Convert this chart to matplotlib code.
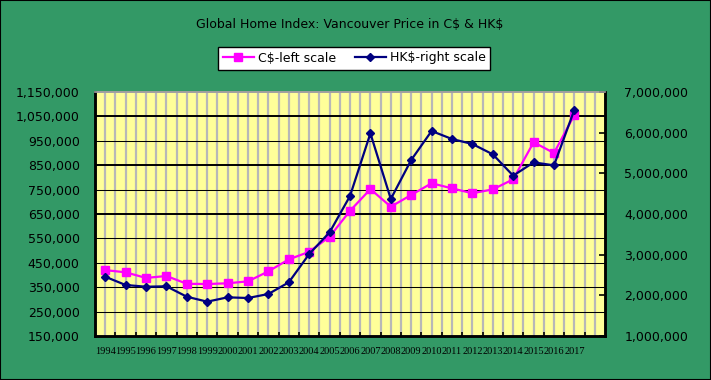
import matplotlib
matplotlib.use('Agg')
import matplotlib.pyplot as plt
from matplotlib.ticker import FuncFormatter
from matplotlib.patches import Rectangle

plt.rcParams['text.parse_math'] = False

years = [str(y) for y in range(1994, 2018)]
cad = [420000, 411000, 388000, 396000, 364000, 363000, 366000, 374000,
       415000, 464000, 495000, 557000, 663000, 752000, 680000, 728000,
       776000, 755000, 735000, 751000, 792000, 944000, 900000, 1056000]
hkd = [2458000, 2254000, 2212000, 2222000, 1966000, 1844000, 1951000, 1934000,
       2033000, 2320000, 3016000, 3549000, 4442000, 5984000, 4369000, 5328000,
       6041000, 5844000, 5721000, 5467000, 4942000, 5270000, 5196000, 6565000]
left_ticks = list(range(150000, 1150001, 100000))
right_ticks = list(range(1000000, 7000001, 1000000))

bg = '#339966'
fig = plt.figure(figsize=(7.11, 3.80), dpi=100, facecolor=bg)
fig.patches.append(Rectangle((0, 0), 1, 1, transform=fig.transFigure,
                             fill=False, edgecolor='black', linewidth=1.5))

ax = fig.add_axes([95/711, 1-336/380, 510/711, 244/380])
ax.set_facecolor('#FFFF99')
x = list(range(len(years)))

# grey vertical lines every half category
for k in range(49):
    ax.axvline(k*0.5, color='#B8B8B8', linewidth=1.6, zorder=1)
# black horizontal grid
for v in left_ticks[1:-1]:
    lw = 1.4 if v in (1050000, 850000, 650000) else 0.75
    ax.axhline(v, color='black', linewidth=lw, zorder=1.5)

l1, = ax.plot(x, cad, color='#FF00FF', linewidth=1.6, marker='s',
              markersize=6, zorder=3, label='C$-left scale')
ax.set_xlim(-0.5, 24.5)
ax.set_ylim(150000, 1150000)
ax.set_yticks(left_ticks)
ax.yaxis.set_major_formatter(FuncFormatter(lambda v, p: f'{int(v):,}'))
ax.tick_params(axis='y', length=0, labelsize=9, pad=11)
ax.set_xticks(x)
ax.set_xticklabels(years, fontsize=7.5, family='Liberation Serif')
ax.set_xticks([i + 0.5 for i in x], minor=True)
ax.tick_params(axis='x', which='major', length=0, pad=8)
ax.tick_params(axis='x', which='minor', direction='in', length=3, width=1.2)

ax2 = ax.twinx()
l2, = ax2.plot(x, hkd, color='#000080', linewidth=1.6, marker='D',
               markersize=4.5, zorder=4, label='HK$-right scale')
ax2.set_ylim(1000000, 7000000)
ax2.set_yticks(right_ticks)
ax2.yaxis.set_major_formatter(FuncFormatter(lambda v, p: f'{int(v):,}'))
ax2.tick_params(axis='y', direction='in', length=4, width=1.2,
                labelsize=9, pad=14)

for a in (ax, ax2):
    for s in ('left', 'bottom', 'right'):
        a.spines[s].set_linewidth(1.8)
        a.spines[s].set_color('black')
    a.spines['top'].set_color('#A0A0A0')
    a.spines['top'].set_linewidth(1.2)

fig.text(350/711, 1-25/380, 'Global Home Index: Vancouver Price in C$ & HK$',
         ha='center', va='center', fontsize=9)

leg = fig.legend(handles=[l1, l2], loc='center', ncol=2,
                 bbox_to_anchor=(354/711, 1-58/380), fontsize=9,
                 frameon=True, fancybox=False, edgecolor='black',
                 facecolor='white', framealpha=1, handlelength=2.5,
                 handletextpad=0.3, columnspacing=1.5, borderpad=0.4)
leg.get_frame().set_linewidth(1.0)

fig.savefig('out.png', dpi=100, facecolor=bg)
